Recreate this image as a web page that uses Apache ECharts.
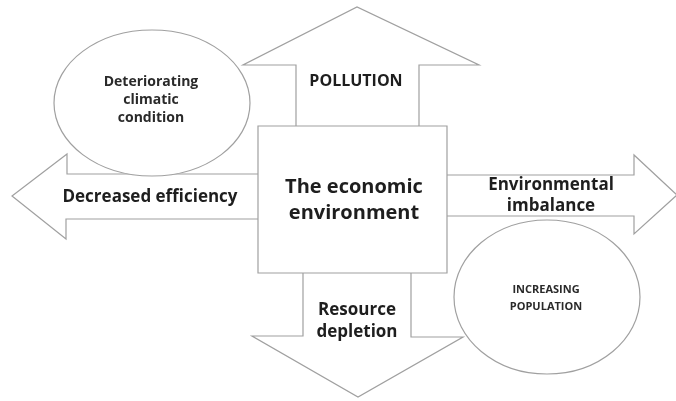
<!DOCTYPE html>
<html><head><meta charset="utf-8">
<script src="https://cdn.jsdelivr.net/npm/echarts@6/dist/echarts.min.js"></script>
<style>html,body{margin:0;padding:0;background:#fff}#c{width:676px;height:401px}</style>
</head><body><div id="c"></div>
<script>
const centerLabel = ['The economic', 'environment'];
const upLabel = ['POLLUTION'];
const leftLabel = ['Decreased efficiency'];
const rightLabel = ['Environmental', 'imbalance'];
const downLabel = ['Resource', 'depletion'];
const ellipse1Label = ['Deteriorating', 'climatic', 'condition'];
const ellipse2Label = ['INCREASING', 'POPULATION'];

const stroke = '#a0a0a0';
const font = '"Open Sans", "Liberation Sans", sans-serif';
const shapeStyle = { fill: '#fff', stroke: stroke, lineWidth: 1.2 };

function txt(lines, x, y, size, lh, color) {
  return {
    type: 'text', x: x, y: y, z: 10,
    style: {
      text: lines.join('\n'), fontFamily: font, fontWeight: 'bold', fontSize: size,
      lineHeight: lh, fill: color || '#1e1e1e', align: 'center', verticalAlign: 'middle'
    }
  };
}

const chart = echarts.init(document.getElementById('c'));
chart.setOption({
  backgroundColor: '#fff',
  graphic: [
    { type: 'polygon', z: 1, shape: { points: [[296,140],[296,65],[243,65],[357,7],[479,65],[419,65],[419,140]] }, style: shapeStyle },
    { type: 'polygon', z: 1, shape: { points: [[270,174],[67,174],[67,154],[12,196],[66,239],[66,219],[270,219]] }, style: shapeStyle },
    { type: 'polygon', z: 1, shape: { points: [[435,175],[634,175],[634,155],[677,195],[634,234],[634,216],[435,216]] }, style: shapeStyle },
    { type: 'polygon', z: 1, shape: { points: [[303,260],[303,336],[252,336],[358,397],[463,337],[411,337],[411,260]] }, style: shapeStyle },
    { type: 'rect', z: 2, shape: { x: 258, y: 126, width: 189, height: 147 }, style: shapeStyle },
    { type: 'ellipse', z: 3, shape: { cx: 152, cy: 103, rx: 98, ry: 73 }, style: shapeStyle },
    { type: 'ellipse', z: 3, shape: { cx: 547, cy: 297, rx: 93, ry: 77 }, style: shapeStyle },
    txt(centerLabel, 354, 200, 20, 26),
    txt(upLabel, 356, 81, 16, 18),
    txt(leftLabel, 150, 197, 17, 20),
    txt(rightLabel, 551, 196, 17, 21),
    txt(downLabel, 357, 321, 17, 22),
    txt(ellipse1Label, 151, 100, 14, 18, '#2a2a2a'),
    txt(ellipse2Label, 546, 298, 11, 17, '#2a2a2a')
  ]
});
</script></body></html>
